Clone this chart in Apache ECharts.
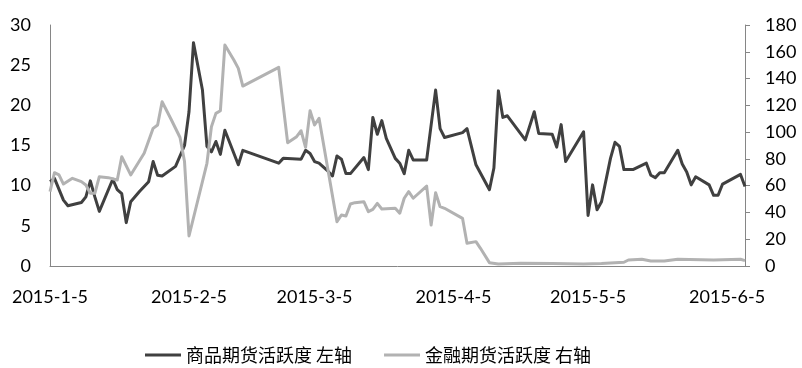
<!DOCTYPE html>
<html>
<head>
<meta charset="utf-8">
<script src="https://cdn.jsdelivr.net/npm/echarts@6/dist/echarts.min.js"></script>
<style>
html,body{margin:0;padding:0;background:#fff;}
#chart{width:802px;height:368px;}
</style>
</head>
<body>
<div id="chart"></div>
<script>
const commodityName = '商品期货活跃度 左轴';
const financialName = '金融期货活跃度 右轴';

const commodityDates = ['2015-01-05','2015-01-06','2015-01-08','2015-01-09','2015-01-12','2015-01-13','2015-01-14','2015-01-15','2015-01-16','2015-01-19','2015-01-20','2015-01-21','2015-01-22','2015-01-23','2015-01-25','2015-01-27','2015-01-28','2015-01-29','2015-01-30','2015-02-02','2015-02-04','2015-02-05','2015-02-06','2015-02-08','2015-02-09','2015-02-10','2015-02-11','2015-02-12','2015-02-13','2015-02-16','2015-02-17','2015-02-25','2015-02-26','2015-03-02','2015-03-03','2015-03-04','2015-03-05','2015-03-06','2015-03-08','2015-03-09','2015-03-10','2015-03-11','2015-03-12','2015-03-13','2015-03-16','2015-03-17','2015-03-18','2015-03-19','2015-03-20','2015-03-21','2015-03-23','2015-03-24','2015-03-25','2015-03-26','2015-03-27','2015-03-30','2015-04-01','2015-04-02','2015-04-03','2015-04-07','2015-04-08','2015-04-10','2015-04-13','2015-04-14','2015-04-15','2015-04-16','2015-04-17','2015-04-21','2015-04-23','2015-04-24','2015-04-27','2015-04-28','2015-04-29','2015-04-30','2015-05-04','2015-05-05','2015-05-06','2015-05-07','2015-05-08','2015-05-10','2015-05-11','2015-05-12','2015-05-13','2015-05-15','2015-05-18','2015-05-19','2015-05-20','2015-05-21','2015-05-22','2015-05-25','2015-05-26','2015-05-27','2015-05-28','2015-05-29','2015-06-01','2015-06-02','2015-06-03','2015-06-04','2015-06-08','2015-06-09'];
const commodityValues = [10.5,10.9,8.2,7.5,7.9,8.6,10.6,8.6,6.8,10.8,9.5,9.0,5.4,8.0,9.3,10.5,13.0,11.3,11.2,12.4,15.0,19.2,27.8,21.9,14.9,14.2,15.5,13.9,16.9,12.6,14.4,12.8,13.4,13.3,14.4,14.0,13.0,12.8,11.8,11.2,13.7,13.3,11.5,11.5,13.5,12.0,18.5,16.4,18.1,15.9,13.4,12.8,11.5,14.4,13.2,13.2,21.9,17.1,16.0,16.6,17.1,12.6,9.5,12.2,21.8,18.5,18.7,15.7,19.2,16.5,16.4,14.8,17.6,13.0,16.7,6.3,10.1,7.0,8.0,13.4,15.4,14.9,12.0,12.0,12.8,11.3,11.0,11.6,11.6,14.4,12.7,11.7,10.1,11.1,10.1,8.8,8.8,10.2,11.4,9.9];

const financialDates = ['2015-01-05','2015-01-06','2015-01-07','2015-01-08','2015-01-10','2015-01-12','2015-01-13','2015-01-14','2015-01-15','2015-01-16','2015-01-18','2015-01-20','2015-01-21','2015-01-23','2015-01-26','2015-01-28','2015-01-29','2015-01-30','2015-02-01','2015-02-03','2015-02-04','2015-02-05','2015-02-09','2015-02-10','2015-02-11','2015-02-12','2015-02-13','2015-02-15','2015-02-16','2015-02-17','2015-02-25','2015-02-27','2015-03-01','2015-03-02','2015-03-03','2015-03-04','2015-03-05','2015-03-06','2015-03-10','2015-03-11','2015-03-12','2015-03-13','2015-03-14','2015-03-16','2015-03-17','2015-03-18','2015-03-19','2015-03-20','2015-03-23','2015-03-24','2015-03-25','2015-03-26','2015-03-27','2015-03-30','2015-03-31','2015-04-01','2015-04-02','2015-04-03','2015-04-07','2015-04-08','2015-04-10','2015-04-11','2015-04-13','2015-04-15','2015-04-20','2015-04-27','2015-05-04','2015-05-08','2015-05-13','2015-05-14','2015-05-17','2015-05-19','2015-05-22','2015-05-25','2015-06-02','2015-06-08','2015-06-09'];
const financialValues = [55.5,69.7,68,61.2,65.5,63,60.5,54.3,54.3,66.7,66,64.2,81.6,68,84.2,102.8,105.3,122.7,109.6,96,78,22.4,76.7,104,114,116,165,153.8,147.6,134.4,148.4,92.1,96.6,101,88.6,116,105.3,110.3,33.1,38.1,37.3,46.3,47.3,48,40.6,42.3,46.8,42.6,43.1,39.4,50.6,55.5,50.6,59.7,30.6,54.7,44.3,43.1,35.6,17,18.2,13.2,2.5,1.5,2,1.8,1.5,1.8,2.8,4.5,5,3.7,3.7,5,4.5,5,4];

const xTickLabels = ['2015-01-05','2015-02-05','2015-03-05','2015-04-05','2015-05-05','2015-06-05'];
const xMin = '2015-01-05';
const xMax = '2015-06-09';
const leftTicks = {min: 0, max: 30, interval: 5};
const rightTicks = {min: 0, max: 180, interval: 20};

const DAY = 86400000;
function dayNum(s){ const p = s.split('-'); return Math.round(Date.UTC(+p[0], +p[1]-1, +p[2]) / DAY); }
function dayLabel(n){ const d = new Date(n * DAY); return d.getUTCFullYear()+'-'+(d.getUTCMonth()+1)+'-'+d.getUTCDate(); }
function pairs(d, v){ return d.map((x,i)=>[dayNum(x), v[i]]); }

const chart = echarts.init(document.getElementById('chart'), null, {renderer:'canvas'});
const labelFont = {fontFamily:'Lato', fontSize:18, color:'#000'};
const axisLineStyle = {color:'#868686', width:1};

chart.setOption({
  animation:false,
  backgroundColor:'#fff',
  grid:{left:50, right:57, top:25, bottom:102, containLabel:false},
  legend:{
    top:341, left:140,
    itemGap:32, itemWidth:36, itemHeight:3, icon:'rect',
    textStyle:{fontFamily:'Noto Sans CJK SC', fontSize:18, color:'#000'},
    data:[commodityName, financialName]
  },
  xAxis:{
    type:'value',
    min:dayNum(xMin), max:dayNum(xMax),
    axisLine:{show:true, lineStyle:axisLineStyle},
    axisTick:{show:false},
    splitLine:{show:false},
    axisLabel:Object.assign({
      margin:22,
      customValues: xTickLabels.map(dayNum),
      formatter:function(v){ return dayLabel(v); },
      showMinLabel:true, showMaxLabel:true, hideOverlap:false
    }, labelFont)
  },
  yAxis:[{
    type:'value', position:'left',
    min:leftTicks.min, max:leftTicks.max, interval:leftTicks.interval,
    axisLine:{show:true, lineStyle:axisLineStyle},
    axisTick:{show:false},
    splitLine:{show:false},
    axisLabel:Object.assign({margin:19}, labelFont)
  },{
    type:'value', position:'right',
    min:rightTicks.min, max:rightTicks.max, interval:rightTicks.interval,
    axisLine:{show:true, lineStyle:axisLineStyle},
    axisTick:{show:true, length:5, inside:false, lineStyle:axisLineStyle},
    splitLine:{show:false},
    axisLabel:Object.assign({margin:20}, labelFont)
  }],
  series:[{
    name:commodityName, type:'line', yAxisIndex:0,
    data:pairs(commodityDates, commodityValues),
    showSymbol:false, symbol:'none',
    lineStyle:{color:'#404040', width:3, join:'round'},
    itemStyle:{color:'#404040'}
  },{
    name:financialName, type:'line', yAxisIndex:1,
    data:pairs(financialDates, financialValues),
    showSymbol:false, symbol:'none',
    lineStyle:{color:'#b2b2b2', width:3, join:'round'},
    itemStyle:{color:'#b2b2b2'}
  }]
});
</script>
</body>
</html>
